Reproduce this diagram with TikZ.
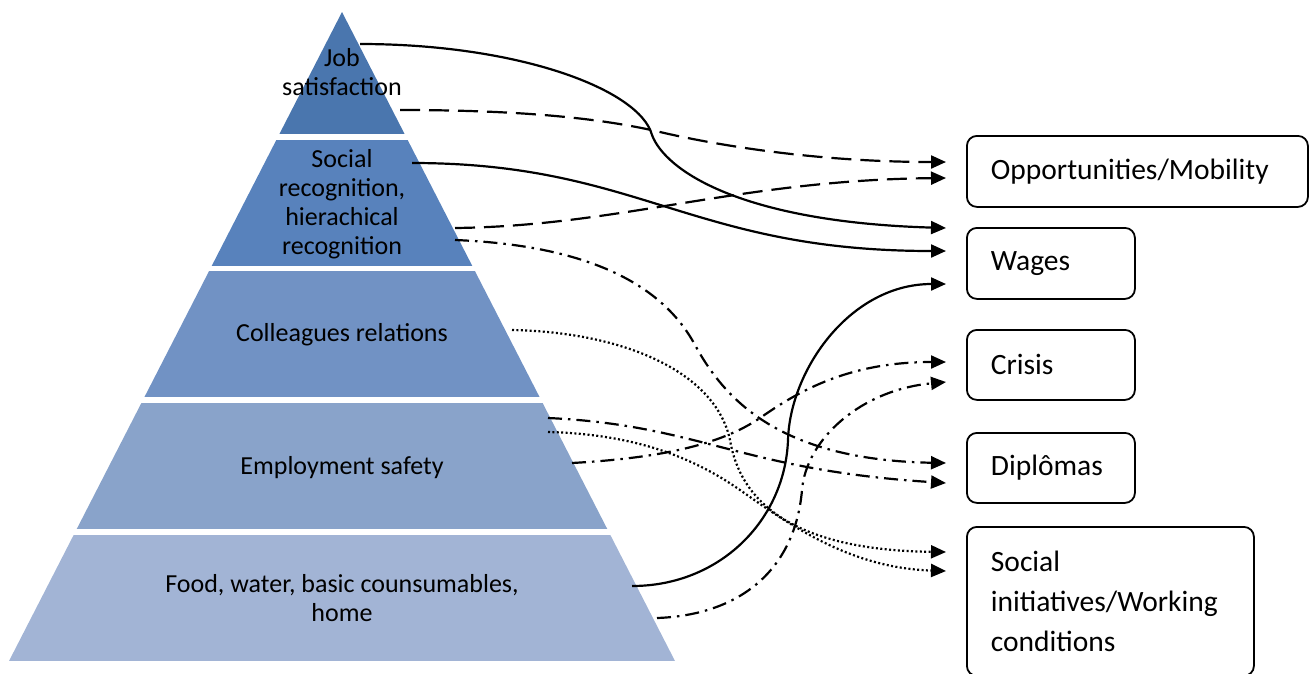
\documentclass[tikz,border=0pt]{standalone}
\usepackage{fontspec}
\setmainfont{Carlito}
\usetikzlibrary{arrows.meta}

% tier fills, darkest at the apex
\definecolor{tierA}{HTML}{4A76AE}
\definecolor{tierB}{HTML}{5882BC}
\definecolor{tierC}{HTML}{7192C4}
\definecolor{tierD}{HTML}{89A3CA}
\definecolor{tierE}{HTML}{A2B4D5}

\begin{document}
\begin{tikzpicture}[x=1pt,y=-1pt,
  tiertext/.style={align=center, inner sep=0pt, font=\fontsize{26}{29}\selectfont},
  target/.style={draw=black, line width=1.8pt, rounded corners=10pt, anchor=north west,
                 align=left, inner xsep=24pt, inner ysep=0pt,
                 font=\fontsize{29.5}{40}\selectfont},
  link/.style={line width=2.2pt, -{Triangle[length=15pt,width=13pt]}},
  solidlink/.style={link},
  dashlink/.style={link, dash pattern=on 20pt off 9pt},
  dashdotlink/.style={link, dash pattern=on 14pt off 6pt on 2.5pt off 6pt},
  dotlink/.style={link, line width=2.2pt, dash pattern=on 2pt off 2.4pt},
]
\useasboundingbox (0,0) rectangle (1313,673);

% pyramid: one triangle cut into five tiers
\begin{scope}
  \clip (342,12) -- (675,661) -- (9,661) -- cycle;
  \fill[tierA] (0,0)     rectangle (1313,134);
  \fill[tierB] (0,139.5) rectangle (1313,265.5);
  \fill[tierC] (0,271)   rectangle (1313,397);
  \fill[tierD] (0,403)   rectangle (1313,529);
  \fill[tierE] (0,534.5) rectangle (1313,661);
\end{scope}

% tier labels
\node[tiertext] (job)  at (342,72)    {Job\\satisfaction};
\node[tiertext] (soc)  at (342,204)   {Social\\recognition,\\hierachical\\recognition};
\node[tiertext] (col)  at (342,334.5) {Colleagues relations};
\node[tiertext] (emp)  at (342,467.5) {Employment safety};
\node[tiertext] (food) at (342,598.5) {Food, water, basic counsumables,\\home};

% outcome boxes
\node[target, minimum width=341pt, minimum height=71pt, text width=293pt] (opp)  at (966,135) {Opportunities/Mobility};
\node[target, minimum width=168pt, minimum height=71pt, text width=120pt] (wag)  at (966,227) {Wages};
\node[target, minimum width=168pt, minimum height=70pt, text width=120pt] (cri)  at (966,329) {Crisis};
\node[target, minimum width=168pt, minimum height=70pt, text width=120pt] (dip)  at (966,432) {Diplômas};
\node[target, minimum width=287pt, minimum height=149pt, text width=239pt] (soci) at (966,526) {Social\\initiatives/Working\\conditions};

% connector start points inside the tiers
\coordinate (job-a)  at (360,44);
\coordinate (job-b)  at (400,110);
\coordinate (soc-a)  at (412,163);
\coordinate (soc-b)  at (455,228);
\coordinate (soc-c)  at (455,240);
\coordinate (col-a)  at (512,330);
\coordinate (emp-a)  at (548,418);
\coordinate (emp-b)  at (548,432);
\coordinate (emp-c)  at (572,463);
\coordinate (food-a) at (632,586);
\coordinate (food-b) at (657,618);

% arrow tips in front of the boxes
\coordinate (opp-1)  at (946,162);
\coordinate (opp-2)  at (946,178);
\coordinate (wag-1)  at (946,228);
\coordinate (wag-2)  at (946,251);
\coordinate (wag-3)  at (946,284);
\coordinate (cri-1)  at (946,362);
\coordinate (cri-2)  at (946,382);
\coordinate (dip-1)  at (946,463);
\coordinate (dip-2)  at (946,483);
\coordinate (soci-1) at (946,552);
\coordinate (soci-2) at (946,571);

% connectors
\draw[solidlink]   (job-a) .. controls (520,44) and (640,90) .. (652,135)
                           .. controls (665,170) and (740,222) .. (wag-1);
\draw[dashlink]    (job-b) .. controls (520,110) and (600,118) .. (660,132)
                           .. controls (720,146) and (820,162) .. (opp-1);
\draw[solidlink]   (soc-a) .. controls (640,163) and (690,251) .. (wag-2);
\draw[dashlink]    (soc-b) .. controls (620,226) and (740,180) .. (opp-2);
\draw[dashdotlink] (soc-c) .. controls (580,245) and (660,280) .. (695,345)
                           .. controls (725,400) and (780,460) .. (dip-1);
\draw[dotlink]     (col-a) .. controls (620,332) and (715,370) .. (730,440)
                           .. controls (740,500) and (790,550) .. (soci-1);
\draw[dashdotlink] (emp-a) .. controls (700,425) and (740,470) .. (dip-2);
\draw[dotlink]     (emp-b) .. controls (630,434) and (690,455) .. (740,490)
                           .. controls (790,525) and (850,568) .. (soci-2);
\draw[dashdotlink] (emp-c) .. controls (660,458) and (720,445) .. (760,418)
                           .. controls (800,390) and (850,362) .. (cri-1);
\draw[solidlink]   (food-a) .. controls (720,586) and (785,520) .. (788,440)
                           .. controls (790,370) and (850,284) .. (wag-3);
\draw[dashdotlink] (food-b) .. controls (740,615) and (795,570) .. (802,490)
                           .. controls (806,440) and (860,390) .. (cri-2);
\end{tikzpicture}
\end{document}
